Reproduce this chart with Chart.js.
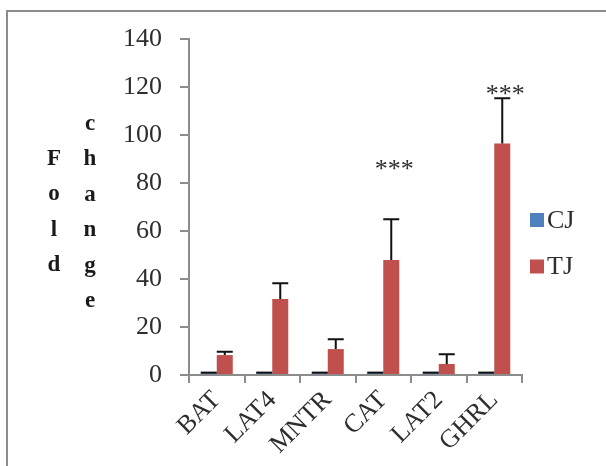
<!doctype html>
<html>
<head>
<script src="https://cdn.jsdelivr.net/npm/chart.js@4.4.1/dist/chart.umd.min.js"></script>
<style>
    body { margin: 0; background: #fff; }
    .frame {
        position: absolute; left: 6px; top: 10px; width: 620px; height: 480px;
        border-left: 2px solid #8c8c8c; border-top: 2px solid #8c8c8c;
    }
    #chart { position: absolute; left: 0; top: 0; }
</style>
</head>
<body>
<div class="frame"></div>
<canvas id="chart" width="606" height="466"></canvas>
<script>
const genes = ['BAT', 'LAT4', 'MNTR', 'CAT', 'LAT2', 'GHRL'];
const cjFold = [1, 1, 1, 1, 1, 1];
const cjErr = [0, 0, 0, 0, 0, 0];
const tjFold = [8.3, 31.7, 10.8, 47.9, 4.6, 96.5];
const tjErr = [1.4, 6.5, 4.1, 17, 4, 18.8];
// significance marks and the height they sit at
const sigText = ['', '', '', '***', '', '***'];
const sigAt = [null, null, null, 87.5, null, 118.75];
const yTicks = [0, 20, 40, 60, 80, 100, 120, 140];

const serif = "'Liberation Serif', 'Times New Roman', serif";
const textCol = '#2e2e2e';

const errorBars = {
    id: 'errorBars',
    afterDatasetsDraw(chart) {
        const ctx = chart.ctx;
        const y = chart.scales.y;
        ctx.save();
        ctx.strokeStyle = '#111';
        ctx.lineWidth = 2;
        chart.data.datasets.forEach((ds, di) => {
            chart.getDatasetMeta(di).data.forEach((bar, i) => {
                const top = y.getPixelForValue(ds.data[i] + ds.err[i]);
                const half = bar.width / 2;
                ctx.beginPath();
                ctx.moveTo(bar.x, bar.y);
                ctx.lineTo(bar.x, top);
                ctx.moveTo(bar.x - half, top);
                ctx.lineTo(bar.x + half, top);
                ctx.stroke();
            });
        });
        // asterisks over the TJ bars
        ctx.fillStyle = textCol;
        ctx.font = '26px ' + serif;
        ctx.textAlign = 'center';
        ctx.textBaseline = 'middle';
        const tjMeta = chart.getDatasetMeta(1);
        sigText.forEach((s, i) => {
            if (!s) return;
            ctx.fillText(s, tjMeta.data[i].x + 3, y.getPixelForValue(sigAt[i]) + 5);
        });
        ctx.restore();
    }
};

// stacked-letter axis title and the legend on the right
const sideText = {
    id: 'sideText',
    afterDraw(chart) {
        const ctx = chart.ctx;
        ctx.save();
        ctx.fillStyle = '#1a1a1a';
        ctx.font = 'bold 23px ' + serif;
        ctx.textAlign = 'center';
        ctx.textBaseline = 'middle';
        const step = 35.5;
        'Fold'.split('').forEach((c, i) => ctx.fillText(c, 54, 159 + i * step));
        'change'.split('').forEach((c, i) => ctx.fillText(c, 90, 124 + i * step));

        ctx.font = '26px ' + serif;
        ctx.textAlign = 'left';
        chart.data.datasets.forEach((ds, i) => {
            const cy = 220 + i * 46.5;
            ctx.fillStyle = ds.backgroundColor;
            ctx.fillRect(530, cy - 7, 14, 14);
            ctx.fillStyle = textCol;
            ctx.fillText(ds.label, 547, cy + 1);
        });
        ctx.restore();
    }
};

const chart = new Chart(document.getElementById('chart'), {
    type: 'bar',
    data: {
        labels: genes,
        datasets: [
            { label: 'CJ', data: cjFold, err: cjErr, backgroundColor: '#4f81bd' },
            { label: 'TJ', data: tjFold, err: tjErr, backgroundColor: '#c0504d' }
        ]
    },
    options: {
        responsive: false,
        animation: false,
        categoryPercentage: 0.577,
        barPercentage: 1,
        layout: { padding: { top: 39, right: 84, left: 0, bottom: 0 } },
        plugins: { legend: { display: false }, tooltip: { enabled: false } },
        scales: {
            y: {
                min: 0, max: 140,
                afterFit(s) { s.width = 189; },
                afterBuildTicks(s) { s.ticks = yTicks.map(v => ({ value: v })); },
                border: { color: '#8c8c8c', width: 2 },
                grid: { drawOnChartArea: false, tickLength: 9, color: '#8c8c8c', lineWidth: 2 },
                ticks: { padding: 18, color: textCol, font: { family: serif, size: 26 } }
            },
            x: {
                afterFit(s) { s.height = 91; },
                border: { color: '#8c8c8c', width: 2 },
                grid: { drawOnChartArea: false, offset: true, tickLength: 8, color: '#8c8c8c', lineWidth: 2 },
                ticks: { minRotation: 45, maxRotation: 45, padding: 2, color: textCol, font: { family: serif, size: 26 } }
            }
        }
    },
    plugins: [errorBars, sideText]
});
</script>
</body>
</html>
